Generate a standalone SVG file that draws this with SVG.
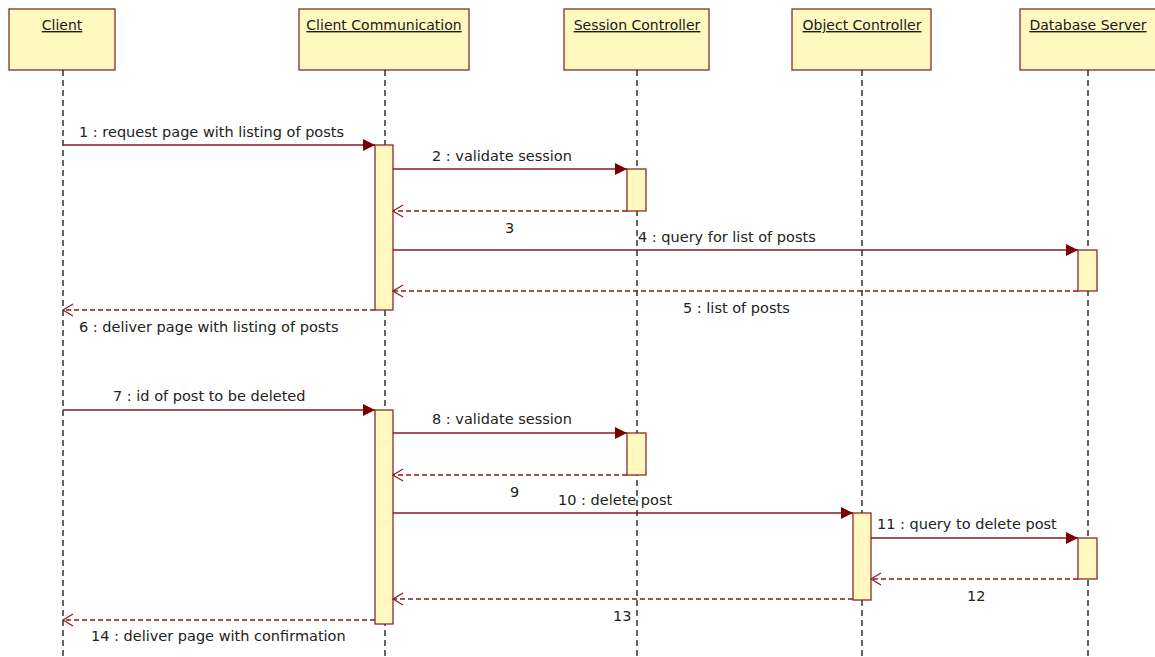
<svg xmlns="http://www.w3.org/2000/svg" width="1155" height="657" viewBox="0 0 1155 657">
<style>
.box{fill:#fff9bf;stroke:#8b2a2a;stroke-width:1.3}
.act{fill:#fff9bf;stroke:#8b2a2a;stroke-width:1.3}
.life{stroke:#111;stroke-width:1.3;stroke-dasharray:6 4;fill:none}
.head{font-family:"DejaVu Sans",sans-serif;font-size:14px;fill:#1a1a1a;text-anchor:middle;text-decoration:underline}
.lbl{font-family:"DejaVu Sans",sans-serif;font-size:14.5px;fill:#222}
.call{stroke:#8b1a1a;stroke-width:1.3;fill:none;marker-end:url(#filled)}
.ret{stroke:#8b1a1a;stroke-width:1.3;fill:none;stroke-dasharray:5 3;marker-end:url(#open)}
</style>
<defs>
<marker id="filled" markerUnits="userSpaceOnUse" markerWidth="14" markerHeight="14" viewBox="-13 -7 14 14" refX="0" refY="0" orient="auto">
<path d="M-12,-6 L0,0 L-12,6 Z" fill="#7a0000"/>
</marker>
<marker id="open" markerUnits="userSpaceOnUse" markerWidth="14" markerHeight="14" viewBox="-12 -7 14 14" refX="0" refY="0" orient="auto">
<path d="M-10,-6 L0,0 L-10,6" fill="none" stroke="#8b1a1a" stroke-width="1.2"/>
</marker>
</defs>
<rect width="1155" height="657" fill="#fff"/>

<g id="client">
<rect class="box" x="9" y="9" width="106" height="61"/>
<text class="head" x="62" y="30">Client</text>
<line class="life" x1="63" y1="70" x2="63" y2="657"/>
</g>
<g id="client-communication">
<rect class="box" x="299" y="9" width="170" height="61"/>
<text class="head" x="384" y="30">Client Communication</text>
<line class="life" x1="385" y1="70" x2="385" y2="657"/>
<rect class="act" x="375" y="145" width="18" height="165"/>
<rect class="act" x="375" y="410" width="18" height="214"/>
</g>
<g id="session-controller">
<rect class="box" x="564" y="9" width="145" height="61"/>
<text class="head" x="637" y="30">Session Controller</text>
<line class="life" x1="637" y1="70" x2="637" y2="657"/>
<rect class="act" x="627" y="169" width="19" height="42"/>
<rect class="act" x="627" y="433" width="19" height="42"/>
</g>
<g id="object-controller">
<rect class="box" x="792" y="9" width="139" height="61"/>
<text class="head" x="862" y="30">Object Controller</text>
<line class="life" x1="862" y1="70" x2="862" y2="657"/>
<rect class="act" x="853" y="513" width="18" height="87"/>
</g>
<g id="database-server">
<rect class="box" x="1020" y="9" width="140" height="61"/>
<text class="head" x="1088" y="30">Database Server</text>
<line class="life" x1="1088" y1="70" x2="1088" y2="657"/>
<rect class="act" x="1078" y="250" width="19" height="41"/>
<rect class="act" x="1078" y="538" width="19" height="41"/>
</g>

<g id="connectors">
<line class="call" x1="63" y1="145" x2="375" y2="145"/>
<line class="call" x1="393" y1="169" x2="627" y2="169"/>
<line class="ret" x1="627" y1="211" x2="393" y2="211"/>
<line class="call" x1="393" y1="250" x2="1078" y2="250"/>
<line class="ret" x1="1078" y1="291" x2="393" y2="291"/>
<line class="ret" x1="375" y1="310" x2="63" y2="310"/>
<line class="call" x1="63" y1="410" x2="375" y2="410"/>
<line class="call" x1="393" y1="433" x2="627" y2="433"/>
<line class="ret" x1="627" y1="475" x2="393" y2="475"/>
<line class="call" x1="393" y1="513" x2="853" y2="513"/>
<line class="call" x1="871" y1="538" x2="1078" y2="538"/>
<line class="ret" x1="1078" y1="579" x2="871" y2="579"/>
<line class="ret" x1="853" y1="599" x2="393" y2="599"/>
<line class="ret" x1="375" y1="620" x2="63" y2="620"/>
</g>

<g id="labels">
<text class="lbl" x="79" y="137">1 : request page with listing of posts</text>
<text class="lbl" x="432" y="161">2 : validate session</text>
<text class="lbl" x="505" y="233">3</text>
<text class="lbl" x="638" y="242">4 : query for list of posts</text>
<text class="lbl" x="683" y="313">5 : list of posts</text>
<text class="lbl" x="79" y="332">6 : deliver page with listing of posts</text>
<text class="lbl" x="113" y="401">7 : id of post to be deleted</text>
<text class="lbl" x="432" y="424">8 : validate session</text>
<text class="lbl" x="510" y="497">9</text>
<text class="lbl" x="558" y="505">10 : delete post</text>
<text class="lbl" x="877" y="529">11 : query to delete post</text>
<text class="lbl" x="967" y="601">12</text>
<text class="lbl" x="613" y="621">13</text>
<text class="lbl" x="91" y="641">14 : deliver page with confirmation</text>
</g>
</svg>
